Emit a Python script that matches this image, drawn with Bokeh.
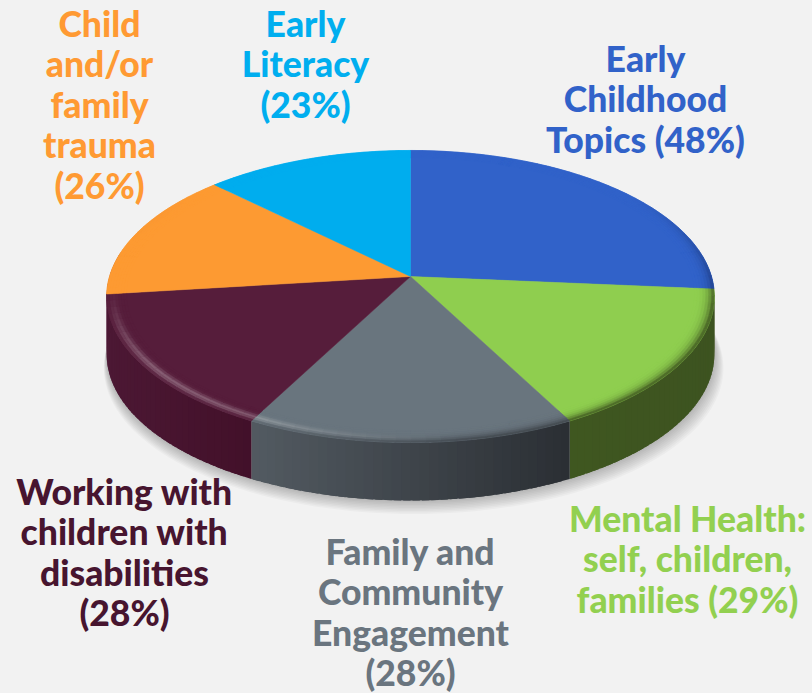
import numpy as np
from bokeh.plotting import figure, ColumnDataSource
from bokeh.models import Range1d, GlobalInlineStyleSheet
from bokeh.core.properties import value
from bokeh.embed import file_html
from bokeh.resources import INLINE

categories = ["Early Childhood Topics", "Mental Health: self, children, families",
              "Family and Community Engagement", "Working with children with disabilities",
              "Child and/or family trauma", "Early Literacy"]
percents = [48, 29, 28, 28, 26, 23]
top_colors = ["#3162c9", "#8fce4f", "#69757e", "#561d3b", "#fd9a32", "#00adee"]
side_left = ["#1f3c80", "#3f5720", "#525a61", "#4c1834", "#4c1834", "#0078a8"]
side_right = ["#1f3c80", "#3d5320", "#2a2e33", "#421029", "#4c1834", "#0078a8"]
text_colors = ["#3162c9", "#92d050", "#6a757f", "#47152f", "#ff9a33", "#00aeef"]

label_lines = [
    ["Early", "Childhood", "Topics (48%)"],
    ["Mental Health:", "self, children,", "families (29%)"],
    ["Family and", "Community", "Engagement", "(28%)"],
    ["Working with", "children with", "disabilities", "(28%)"],
    ["Child", "and/or", "family", "trauma", "(26%)"],
    ["Early", "Literacy", "(23%)"],
]
label_cx = [645, 687, 410, 124, 99, 305]
label_y0 = [58, 518, 551, 491, 23, 23]
LINE_H = 40.4

CX, CY = 410.0, 276.0
RX, RY, K = 301.0, 143.3, 0.137
DEPTH = 58.0


def project(theta_deg, r=1.0, dy=0.0):
    t = np.radians(theta_deg)
    u, v = r * np.sin(t), r * np.cos(t)
    d = 1 + K * v
    return CX + RX * u / d, CY - RY * v / d + dy


def hex2rgb(h):
    return np.array([int(h[i:i + 2], 16) for i in (1, 3, 5)], dtype=float)


def mix(a, b, f):
    c = a * (1 - f) + b * f
    return "#%02x%02x%02x" % tuple(int(round(x)) for x in np.clip(c, 0, 255))


total = sum(percents)
edges = np.concatenate([[0], np.cumsum(percents) / total * 360.0])

p = figure(width=812, height=693, output_backend="svg", toolbar_location=None,
           x_range=Range1d(0, 812), y_range=Range1d(693, 0),
           background_fill_color="#f2f2f2", border_fill_color="#f2f2f2",
           min_border=0, outline_line_color=None)
p.axis.visible = False
p.grid.visible = False
p.stylesheets = [GlobalInlineStyleSheet(css="html,body{margin:0;padding:0;background:#f2f2f2;overflow:hidden}")]

# soft shadow under the pie
full = np.arange(0, 360, 2.0)
for i in range(1, 10):
    bx, by = project(full, 1.0, DEPTH)
    bx = CX + (bx - CX) * (1 + i * 0.0022) + i * 0.35
    by = by + i * 1.5
    p.patch(bx.tolist(), by.tolist(), fill_color="#000000", fill_alpha=0.028, line_color=None)

# side wall: strips overlap, so no seams show
xs, ys, cs = [], [], []
for k in range(len(percents)):
    a0, a1 = edges[k], edges[k + 1]
    lo, hi = max(a0, 80.0), min(a1, 280.0)
    if hi <= lo:
        continue
    n = max(1, int((hi - lo) / 1.5))
    ang = np.linspace(lo, hi, n + 1)
    e0, _ = project(lo)
    e1, _ = project(hi)
    xl, xr = min(e0, e1), max(e0, e1)
    for i in range(n):
        ta = np.array([ang[i], min(ang[i + 1] + 1.2, hi)])
        tx, ty = project(ta)
        bx, by = project(ta[::-1], 1.0, DEPTH)
        f = float(np.clip((tx.mean() - xl) / (xr - xl), 0, 1)) if xr > xl else 0.0
        xs.append(np.concatenate([tx, bx]).tolist())
        ys.append(np.concatenate([ty, by]).tolist())
        cs.append(mix(hex2rgb(side_left[k]), hex2rgb(side_right[k]), f))
p.patches(xs, ys, fill_color=cs, line_color=None)

# top face
R0 = 0.935
xs, ys, cs = [], [], []
for k in range(len(percents)):
    ang = np.linspace(edges[k], edges[k + 1], 80)
    rx_, ry_ = project(ang)
    xs.append([CX] + rx_.tolist())
    ys.append([CY] + ry_.tolist())
    cs.append(top_colors[k])
p.patches(xs, ys, fill_color=cs, line_color=cs, line_width=0.5)

# bevel round the rim of the top face
rings = np.linspace(R0, 1.0, 8)
xs, ys, cs = [], [], []
white = np.array([255.0, 255.0, 255.0])
for k in range(len(percents)):
    n = max(2, int((edges[k + 1] - edges[k]) / 2.5))
    ang = np.linspace(edges[k], edges[k + 1], n + 1)
    base = hex2rgb(top_colors[k])
    for i in range(n):
        ta = np.array([ang[i], ang[i + 1]])
        mid = ta.mean()
        v = np.cos(np.radians(mid))
        mx, _ = project(mid)
        front = float(np.clip((0.6 - v) / 0.8, 0, 1))
        hl = 0.30 * float(np.clip((450 - mx) / 200, 0, 1)) * float(np.clip((-v - 0.1) / 0.5, 0, 1))
        dk = float(np.clip(0.35 + (mx - 250) / 350, 0, 1)) * front
        sf = (hex2rgb(side_left[k]) + hex2rgb(side_right[k])) / 2
        for j in range(len(rings) - 1):
            s = (j + 0.5) / (len(rings) - 1)
            g = hl * np.exp(-((s - 0.68) / 0.2) ** 2)
            col = base * (1 - g) + white * g
            c = mix(col, sf, (s ** 3) * dk)
            ix, iy = project(ta, rings[j])
            ox, oy = project(ta[::-1], rings[j + 1])
            xs.append(np.concatenate([ix, ox]).tolist())
            ys.append(np.concatenate([iy, oy]).tolist())
            cs.append(c)
p.patches(xs, ys, fill_color=cs, line_color=cs, line_width=0.5)

# labels
tx, ty, tt, tc = [], [], [], []
for k, lines in enumerate(label_lines):
    for i, line in enumerate(lines):
        tx.append(label_cx[k])
        ty.append(label_y0[k] + i * LINE_H)
        tt.append(line)
        tc.append(text_colors[k])
src = ColumnDataSource(dict(x=tx, y=ty, text=tt, color=tc))
p.text("x", "y", text="text", source=src, text_color="color", text_align="center",
       text_baseline="middle", text_font=value("Lato Black"), text_font_style="normal",
       text_font_size="35.5px")

open("out.html", "w").write(file_html(p, INLINE))
